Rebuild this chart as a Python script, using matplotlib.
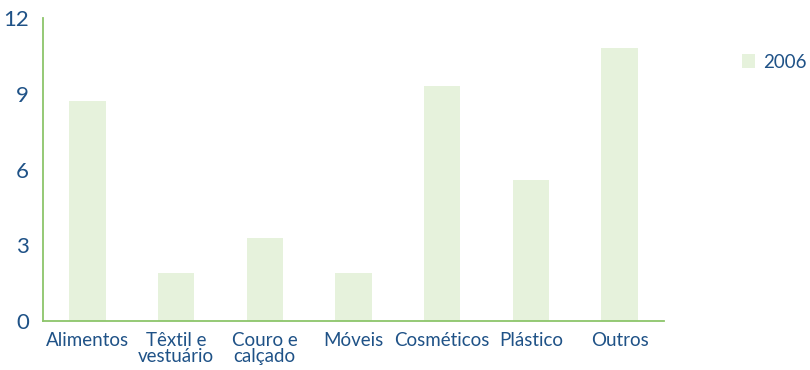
import matplotlib
matplotlib.use("Agg")
import matplotlib.pyplot as plt
from matplotlib.patches import Patch

# Participação por setor, 2006
categories = ["Alimentos", "Têxtil e\nvestuário", "Couro e\ncalçado", "Móveis",
              "Cosméticos", "Plástico", "Outros"]
values_2006 = [8.7, 1.9, 3.3, 1.9, 9.3, 5.6, 10.8]
yticks = [0, 3, 6, 9, 12]
series_label = "2006"

BAR = "#e6f2dc"
AXIS = "#8cc56a"
TEXT = "#1f5287"

plt.rcParams["font.family"] = ["Lato", "DejaVu Sans"]

fig = plt.figure(figsize=(8.1, 3.7), dpi=100)
ax = fig.add_axes([43 / 810, 1 - 321 / 370, 621 / 810, 303 / 370])

x = range(len(categories))
ax.bar(x, values_2006, width=0.41, color=BAR, zorder=2)

ax.set_xlim(-0.5, len(categories) - 0.5)
ax.set_ylim(0, 12)
ax.set_yticks(yticks)
ax.set_xticks(list(x))
ax.set_xticklabels(categories, linespacing=0.9)
ax.tick_params(axis="both", length=0, colors=TEXT)
ax.tick_params(axis="y", labelsize=16, pad=10)
ax.tick_params(axis="x", labelsize=13.5, pad=8)

for side in ("top", "right"):
    ax.spines[side].set_visible(False)
for side in ("left", "bottom"):
    ax.spines[side].set_color(AXIS)
    ax.spines[side].set_linewidth(1.3)

leg = fig.legend(handles=[Patch(facecolor=BAR, label=series_label)],
                 loc="center left", bbox_to_anchor=(742 / 810, 1 - 62 / 370),
                 frameon=False, fontsize=13.5, handlelength=0.7, handleheight=0.7,
                 handletextpad=0.4, borderpad=0, borderaxespad=0)
for t in leg.get_texts():
    t.set_color(TEXT)

fig.savefig("out.png", dpi=100)
